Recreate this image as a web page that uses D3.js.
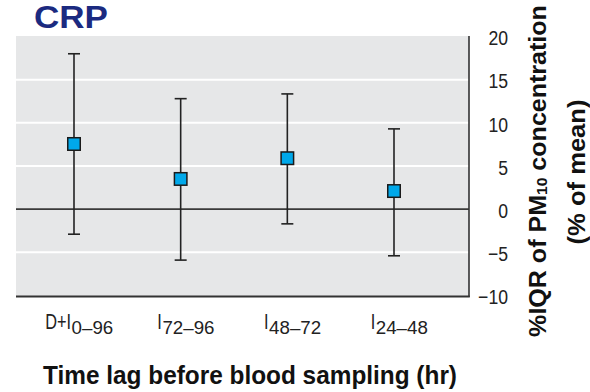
<!DOCTYPE html>
<html><head><meta charset="utf-8">
<script src="https://cdn.jsdelivr.net/npm/d3@7"></script>
<style>
body{margin:0;background:#fff}
svg{display:block}
text{font-family:"Liberation Sans",Arial,sans-serif}
</style>
</head><body>
<svg id="chart" width="590" height="392"></svg>
<script>
// Time-lag windows (main letter + subscript range)
const lagMain = ["D+I", "I", "I", "I"];
const lagSub = ["0–96", "72–96", "48–72", "24–48"];
const categories = ["D+I0–96", "I72–96", "I48–72", "I24–48"];
// % change in CRP per IQR of PM10, with 95% CI
const estimate = [7.55, 3.5, 5.9, 2.1];
const lower = [-2.9, -5.9, -1.7, -5.4];
const upper = [18.0, 12.8, 13.35, 9.3];
const yTicks = [-10, -5, 0, 5, 10, 15, 20];

const svg = d3.select("#chart");
const plot = {left: 16, right: 469, top: 36, bottom: 297};

const x = d3.scalePoint().domain(categories).range([plot.left + 58, plot.right - 75]);
const y = d3.scaleLinear().domain([-10, 20]).range([295.5, 36.5]);

// stretch/squeeze a text element along its writing direction to a given length
function fitLength(sel, cx, cy, len, angle) {
  const w = sel.node().getBBox().width;
  sel.attr("transform", `translate(${cx},${cy}) rotate(${angle || 0}) scale(${len / w},1)`);
}

// panel background
svg.append("rect")
  .attr("x", plot.left).attr("y", plot.top)
  .attr("width", plot.right - plot.left).attr("height", plot.bottom - plot.top)
  .attr("fill", "#e6e7e8");

// white gridlines
svg.append("g").selectAll("line")
  .data(yTicks.filter(t => t !== 0 && t !== -10 && t !== 20))
  .join("line")
  .attr("x1", plot.left).attr("x2", plot.right)
  .attr("y1", d => y(d)).attr("y2", d => y(d))
  .attr("stroke", "#ffffff").attr("stroke-width", 2);

// zero reference line
svg.append("line")
  .attr("x1", plot.left).attr("x2", plot.right)
  .attr("y1", y(0)).attr("y2", y(0))
  .attr("stroke", "#3a3a3a").attr("stroke-width", 1.6);

// frame: right and bottom
svg.append("line")
  .attr("x1", plot.right).attr("x2", plot.right)
  .attr("y1", plot.top).attr("y2", plot.bottom)
  .attr("stroke", "#333").attr("stroke-width", 1.6);
svg.append("line")
  .attr("x1", plot.left).attr("x2", plot.right + 0.8)
  .attr("y1", plot.bottom - 0.5).attr("y2", plot.bottom - 0.5)
  .attr("stroke", "#333").attr("stroke-width", 2);

// right-side axis labels (condensed)
const yAxis = d3.axisRight(y).tickValues(yTicks).tickSize(0).tickPadding(0)
  .tickFormat(d3.format("d"));
const ya = svg.append("g").attr("transform", "translate(508,1.5) scale(0.84,1)").call(yAxis);
ya.select(".domain").remove();
ya.selectAll("text")
  .attr("text-anchor", "end").attr("x", 0)
  .attr("font-size", 21).attr("fill", "#222")
  .style("font-family", null);

// error bars
const cap = 12;
const bars = svg.append("g").selectAll("g").data(categories).join("g");
bars.append("line")
  .attr("x1", d => x(d)).attr("x2", d => x(d))
  .attr("y1", (d, i) => y(upper[i])).attr("y2", (d, i) => y(lower[i]))
  .attr("stroke", "#222").attr("stroke-width", 1.6);
bars.append("line")
  .attr("x1", d => x(d) - cap / 2).attr("x2", d => x(d) + cap / 2)
  .attr("y1", (d, i) => y(upper[i])).attr("y2", (d, i) => y(upper[i]))
  .attr("stroke", "#222").attr("stroke-width", 1.6);
bars.append("line")
  .attr("x1", d => x(d) - cap / 2).attr("x2", d => x(d) + cap / 2)
  .attr("y1", (d, i) => y(lower[i])).attr("y2", (d, i) => y(lower[i]))
  .attr("stroke", "#222").attr("stroke-width", 1.6);
const sq = 12.5;
bars.append("rect")
  .attr("x", d => x(d) - sq / 2).attr("y", (d, i) => y(estimate[i]) - sq / 2)
  .attr("width", sq).attr("height", sq)
  .attr("fill", "#00a8ea").attr("stroke", "#1a1a1a").attr("stroke-width", 1.5);

// category labels: condensed main letters followed by a lowered subscript
const mainScale = 0.76, subScale = 1.04;
const labels = svg.append("g").selectAll("g").data(categories).join("g");
labels.each(function (d, i) {
  const g = d3.select(this);
  const main = g.append("text").attr("font-size", 21.5).attr("fill", "#222").text(lagMain[i]);
  const sub = g.append("text").attr("font-size", 18).attr("fill", "#222").text(lagSub[i]);
  const wm = main.node().getBBox().width * mainScale;
  const ws = sub.node().getBBox().width * subScale;
  const start = x(d) + 5 - (wm + ws) / 2;
  main.attr("transform", `translate(${start},328.5) scale(${mainScale},1)`);
  sub.attr("transform", `translate(${start + wm + 0.5},333.5) scale(${subScale},1)`);
});

// x axis title
const xt = svg.append("text")
  .attr("text-anchor", "middle")
  .attr("font-size", 25).attr("font-weight", "bold").attr("fill", "#111")
  .text("Time lag before blood sampling (hr)");
fitLength(xt, 250, 384, 414);

// y axis title (rotated, on the right)
const yt = svg.append("text")
  .attr("text-anchor", "middle")
  .attr("font-size", 24).attr("font-weight", "bold").attr("fill", "#111");
yt.append("tspan").text("%IQR of PM");
yt.append("tspan").attr("font-size", 15).attr("dy", 1).text("10");
yt.append("tspan").attr("dy", -1).text(" concentration");
fitLength(yt, 545.5, 171, 332, -90);
const yt2 = svg.append("text")
  .attr("text-anchor", "middle")
  .attr("font-size", 24).attr("font-weight", "bold").attr("fill", "#111")
  .text("(% of mean)");
fitLength(yt2, 584.5, 172, 145, -90);

// panel title
const title = svg.append("text")
  .attr("font-size", 31).attr("font-weight", "bold").attr("fill", "#1b2a80")
  .text("CRP");
fitLength(title, 34, 28, 74);
</script>
</body></html>
